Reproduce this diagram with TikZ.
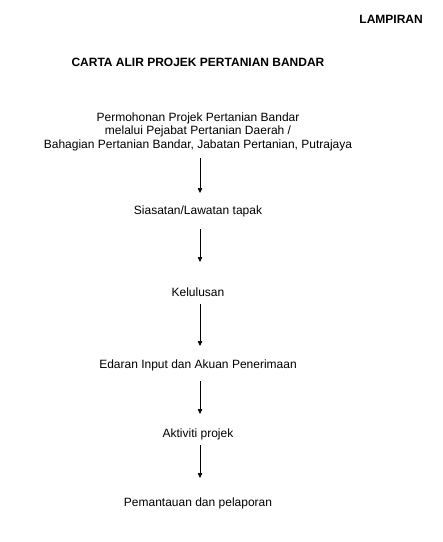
\documentclass[tikz,border=0pt]{standalone}
\usepackage{fontspec}
\setmainfont{Liberation Sans}
\usetikzlibrary{arrows.meta}
\tikzset{
  lbl/.style={inner sep=0pt, font=\fontsize{12}{14}\selectfont, align=center, anchor=base},
  ttl/.style={inner sep=0pt, font=\fontsize{12}{14}\selectfont\bfseries, anchor=base},
  arr/.style={-{Triangle[length=5pt,width=4.5pt]}, line width=0.6pt},
}
\begin{document}
\begin{tikzpicture}[x=1pt,y=-1pt]
\useasboundingbox (0,0) rectangle (443,542);
\node[ttl, anchor=base east] (lamp) at (423,23.5) {LAMPIRAN};
\node[ttl] (title) at (198,66.5) {CARTA ALIR PROJEK PERTANIAN BANDAR};
\node[lbl] (p1) at (198,121.5) {Permohonan Projek Pertanian Bandar};
\node[lbl] (p2) at (198,134) {melalui Pejabat Pertanian Daerah /};
\node[lbl] (p3) at (198,148.5) {Bahagian Pertanian Bandar, Jabatan Pertanian, Putrajaya};
\node[lbl] (s) at (198,214.5) {Siasatan/Lawatan tapak};
\node[lbl] (k) at (198,296.5) {Kelulusan};
\node[lbl] (e) at (198,368.5) {Edaran Input dan Akuan Penerimaan};
\node[lbl] (a) at (198,437.5) {Aktiviti projek};
\node[lbl] (m) at (198,506.5) {Pemantauan dan pelaporan};
\coordinate (a1s) at (200,158); \coordinate (a1e) at (200,193);
\coordinate (a2s) at (200,229); \coordinate (a2e) at (200,262);
\coordinate (a3s) at (200,304); \coordinate (a3e) at (200,346);
\coordinate (a4s) at (200,381); \coordinate (a4e) at (200,414);
\coordinate (a5s) at (200,445); \coordinate (a5e) at (200,478);
\draw[arr] (a1s) -- (a1e);
\draw[arr] (a2s) -- (a2e);
\draw[arr] (a3s) -- (a3e);
\draw[arr] (a4s) -- (a4e);
\draw[arr] (a5s) -- (a5e);
\end{tikzpicture}
\end{document}
